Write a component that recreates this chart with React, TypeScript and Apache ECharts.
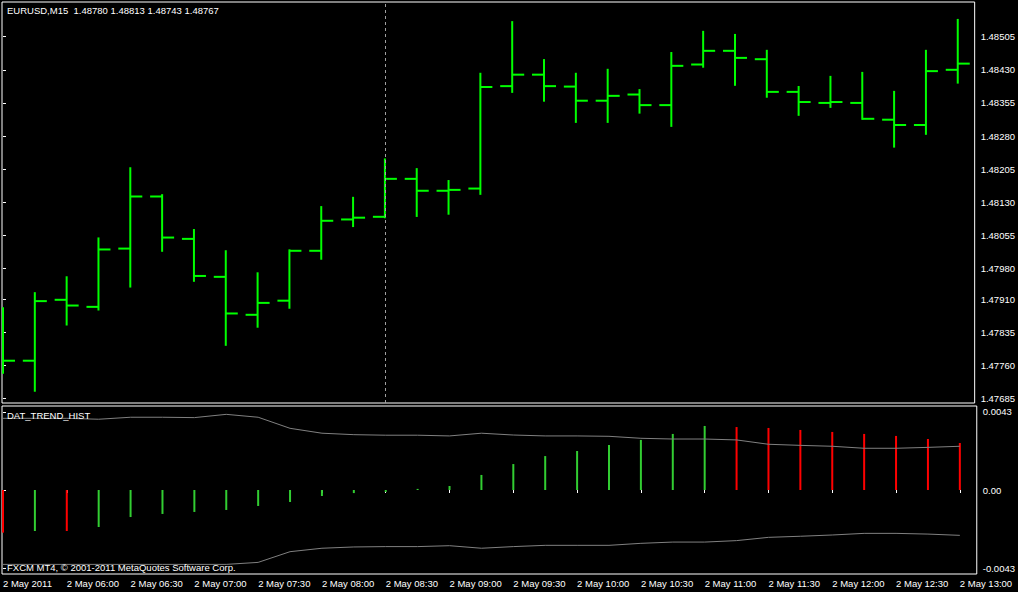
import React, { useEffect, useRef } from "react";
import * as echarts from "echarts";

const times = ["05:30","05:45","06:00","06:15","06:30","06:45","07:00","07:15","07:30","07:45","08:00","08:15","08:30","08:45","09:00","09:15","09:30","09:45","10:00","10:15","10:30","10:45","11:00","11:15","11:30","11:45","12:00","12:15","12:30","12:45","13:00"];

const opens = [1.47800,1.47771,1.47909,1.47893,1.48025,1.48143,1.48047,1.47961,1.47875,1.47907,1.48020,1.48091,1.48097,1.48183,1.48156,1.48161,1.48393,1.48419,1.48392,1.48360,1.48374,1.48350,1.48442,1.48473,1.48454,1.48380,1.48355,1.48355,1.48317,1.48305,1.48430];
const highs = [1.47890,1.47924,1.47960,1.48048,1.48207,1.48146,1.48067,1.48019,1.47969,1.48021,1.48119,1.48140,1.48227,1.48205,1.48178,1.48421,1.48538,1.48452,1.48421,1.48430,1.48384,1.48468,1.48516,1.48509,1.48473,1.48391,1.48414,1.48423,1.48380,1.48473,1.48543];
const lows = [1.47744,1.47703,1.47853,1.47887,1.47939,1.48020,1.47952,1.47807,1.47848,1.47891,1.48002,1.48076,1.48096,1.48099,1.48104,1.48149,1.48380,1.48360,1.48312,1.48312,1.48333,1.48303,1.48437,1.48396,1.48369,1.48328,1.48346,1.48319,1.48256,1.48285,1.48401];
const closes = [1.47771,1.47906,1.47896,1.48023,1.48143,1.48050,1.47963,1.47878,1.47902,1.48020,1.48088,1.48095,1.48183,1.48156,1.48158,1.48391,1.48419,1.48393,1.48360,1.48371,1.48350,1.48439,1.48473,1.48457,1.48380,1.48357,1.48357,1.48319,1.48305,1.48427,1.48444];

const hist = [-0.00235,-0.00226,-0.00226,-0.00204,-0.00149,-0.00132,-0.00121,-0.00110,-0.00088,-0.00066,-0.00033,-0.00017,-0.00011,0.00006,0.00022,0.00083,0.00143,0.00187,0.00215,0.00248,0.00276,0.00309,0.00353,0.00347,0.00342,0.00331,0.00320,0.00309,0.00298,0.00281,0.00259];
// 1 = green (trend up), 0 = red
const histTrend = [0,1,0,1,1,1,1,1,1,1,1,1,1,1,1,1,1,1,1,1,1,1,1,0,0,0,0,0,0,0,0];
const upperBand = [0.00395,0.00395,0.00395,0.00390,0.00401,0.00401,0.00399,0.00417,0.00401,0.00340,0.00313,0.00305,0.00302,0.00302,0.00298,0.00313,0.00303,0.00298,0.00298,0.00296,0.00285,0.00281,0.00281,0.00276,0.00252,0.00246,0.00241,0.00230,0.00230,0.00235,0.00241];
const lowerBand = [-0.00410,-0.00410,-0.00410,-0.00410,-0.00410,-0.00410,-0.00410,-0.00410,-0.00399,-0.00340,-0.00321,-0.00314,-0.00312,-0.00312,-0.00307,-0.00321,-0.00312,-0.00305,-0.00305,-0.00305,-0.00294,-0.00287,-0.00287,-0.00279,-0.00261,-0.00255,-0.00248,-0.00239,-0.00239,-0.00243,-0.00250];

const priceTicks = [1.48505,1.48430,1.48355,1.48280,1.48205,1.48130,1.48055,1.47980,1.47910,1.47835,1.47760,1.47685];
const indTicks = [0.0043, 0, -0.0043];
const timeTickIdx = [0,2,4,6,8,10,12,14,16,18,20,22,24,26,28,30];
const separatorIdx = 12;

const FONT = '"Liberation Sans", Arial, sans-serif';

export default function App() {
  const ref = useRef<HTMLDivElement>(null);
  useEffect(() => {
    if (!ref.current) return;
    const chart = echarts.init(ref.current, null, { renderer: "svg" });
    const green = "#00ff00";
    const xMin = -1 / 32;
    const xMax = 30 + 17 / 32;
    const option: any = {
      animation: false,
      backgroundColor: "#000",
      grid: [
        { left: 2, top: 2, width: 978, height: 401, show: true, borderColor: "#fff", borderWidth: 1 },
        { left: 2, top: 406, width: 978, height: 168, show: true, borderColor: "#fff", borderWidth: 1 },
      ],
      xAxis: [
        {
          type: "value", gridIndex: 0, min: xMin, max: xMax,
          axisLine: { show: false }, axisTick: { show: false }, axisLabel: { show: false }, splitLine: { show: false },
        },
        {
          type: "value", gridIndex: 1, min: xMin, max: xMax,
          axisLine: { show: false },
          axisTick: { show: true, customValues: timeTickIdx, length: 3, lineStyle: { color: "#fff" } },
          axisLabel: {
            show: true, customValues: timeTickIdx, color: "#fff", fontSize: 9.5, fontFamily: FONT,
            align: "left", margin: 4,
            formatter: (v: number) => {
              const i = Math.round(v);
              return i === 0 ? "2 May 2011" : "2 May " + times[i];
            },
          },
          splitLine: { show: false },
        },
      ],
      yAxis: [
        {
          type: "value", gridIndex: 0, position: "right", min: 1.476752, max: 1.485836,
          axisLine: { show: false },
          axisTick: { show: true, customValues: priceTicks, length: 3, lineStyle: { color: "#fff" } },
          axisLabel: {
            show: true, customValues: priceTicks, color: "#fff", fontSize: 9.5, fontFamily: FONT, margin: 6,
            formatter: (v: number) => v.toFixed(5),
          },
          splitLine: { show: false },
        },
        {
          type: "value", gridIndex: 1, position: "right", min: -0.00463, max: 0.00463,
          axisLine: { show: false },
          axisTick: { show: true, customValues: indTicks, length: 3, lineStyle: { color: "#fff" } },
          axisLabel: {
            show: true, customValues: indTicks, color: "#fff", fontSize: 9.5, fontFamily: FONT, margin: 6,
            formatter: (v: number) => (Math.abs(v) < 1e-9 ? "0.00" : v.toFixed(4)),
          },
          splitLine: { show: false },
        },
      ],
      series: [
        {
          type: "custom",
          xAxisIndex: 0, yAxisIndex: 0,
          clip: true,
          encode: { x: 0, y: [1, 2, 3, 4] },
          data: times.map((t, i) => [i, opens[i], highs[i], lows[i], closes[i]]),
          renderItem: (params: any, api: any) => {
            const x = api.value(0);
            const o = api.coord([x, api.value(1)]);
            const h = api.coord([x, api.value(2)]);
            const l = api.coord([x, api.value(3)]);
            const c = api.coord([x, api.value(4)]);
            const style = { stroke: green, lineWidth: 2 };
            return {
              type: "group",
              children: [
                { type: "line", shape: { x1: h[0], y1: h[1] - 1, x2: l[0], y2: l[1] + 1 }, style },
                { type: "line", shape: { x1: o[0] - 12, y1: o[1], x2: o[0], y2: o[1] }, style },
                { type: "line", shape: { x1: c[0], y1: c[1], x2: c[0] + 12, y2: c[1] }, style },
              ],
            };
          },
          markLine: {
            silent: true, symbol: "none", animation: false,
            label: { show: false },
            lineStyle: { color: "#a0a0a0", type: [3, 3], width: 1 },
            data: [{ xAxis: separatorIdx }],
          },
        },
        {
          type: "line", xAxisIndex: 1, yAxisIndex: 1, symbol: "none",
          lineStyle: { color: "#808080", width: 1 },
          data: upperBand.map((v, i) => [i, v]),
        },
        {
          type: "line", xAxisIndex: 1, yAxisIndex: 1, symbol: "none",
          lineStyle: { color: "#808080", width: 1 },
          data: lowerBand.map((v, i) => [i, v]),
        },
        {
          type: "bar", xAxisIndex: 1, yAxisIndex: 1, barWidth: 2,
          data: hist.map((v, i) => ({ value: [i, v], itemStyle: { color: histTrend[i] ? "#32cd32" : "#ff0000" } })),
        },
      ],
      graphic: [
        {
          type: "text", x: 7, y: 10.5, z: 100,
          style: { text: "EURUSD,M15  1.48780 1.48813 1.48743 1.48767", fill: "#fff", font: `9.5px ${FONT}`, verticalAlign: "middle" },
        },
        {
          type: "text", x: 7, y: 415.5, z: 100,
          style: { text: "DAT_TREND_HIST", fill: "#fff", font: `9.5px ${FONT}`, verticalAlign: "middle" },
        },
        {
          type: "text", x: 7, y: 567, z: 100,
          style: { text: "FXCM MT4, © 2001-2011 MetaQuotes Software Corp.", fill: "#fff", font: `9.5px ${FONT}`, verticalAlign: "middle" },
        },
      ],
    };
    chart.setOption(option);
    return () => chart.dispose();
  }, []);
  return (
    <div
      ref={ref}
      style={{ position: "fixed", left: 0, top: 0, width: 1018, height: 592, background: "#000" }}
    />
  );
}
